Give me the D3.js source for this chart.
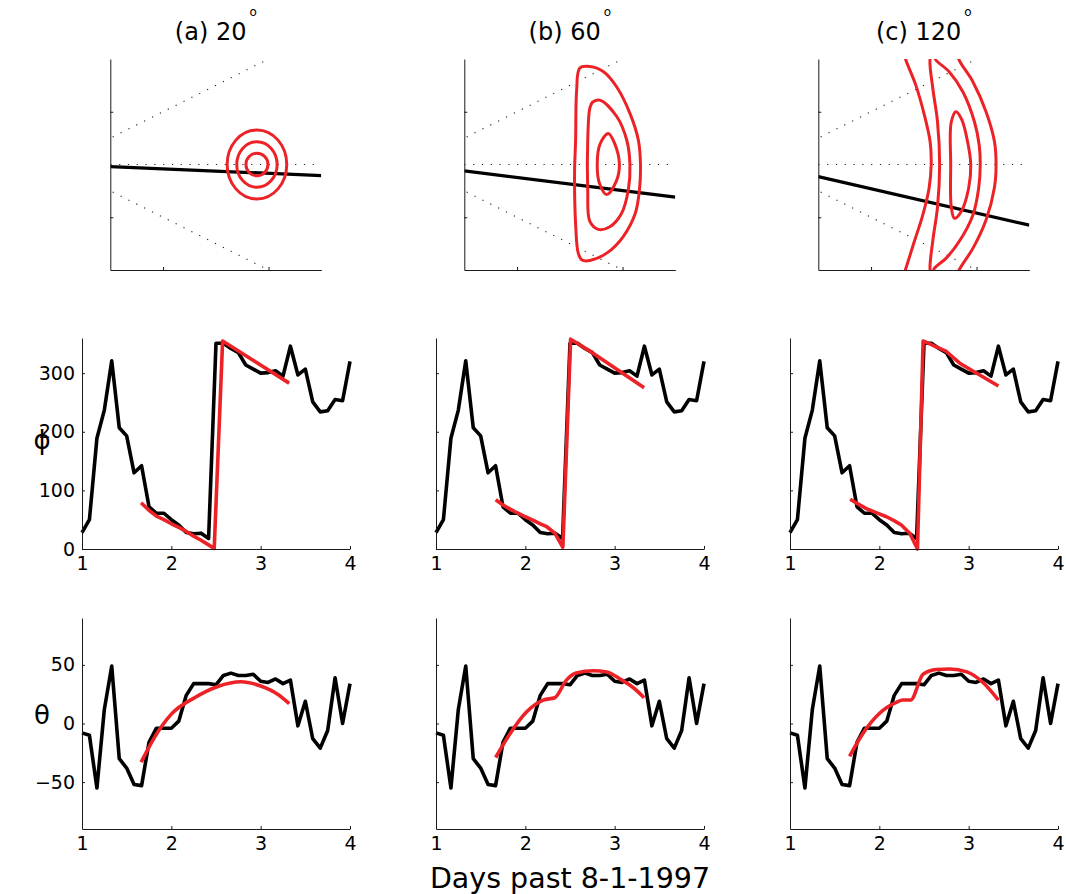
<!DOCTYPE html>
<html><head><meta charset="utf-8">
<script src="https://cdn.jsdelivr.net/npm/d3@7"></script>
<style>
body{margin:0;background:#fff}
svg{display:block}
text{font-family:"DejaVu Sans",Arial,sans-serif;fill:#000}
</style>
</head><body>
<svg id="chart" width="1066" height="894"></svg>
<script>
// ---------- DATA ----------
const panelTitles = ["(a) 20", "(b) 60", "(c) 120"];
const days = [1.000,1.083,1.167,1.250,1.333,1.417,1.500,1.583,1.667,1.750,1.833,1.917,2.000,2.083,2.167,2.250,2.333,2.417,2.500,2.583,2.667,2.750,2.833,2.917,3.000,3.083,3.167,3.250,3.333,3.417,3.500,3.583,3.667,3.750,3.833,3.917,4.000];
const phiObs   = [28,50,189,237,321,207,193,130,142,72,61,61,50,41,28,26,27,18,351,351,342,335,314,307,300,301,304,295,346,297,307,251,234,236,255,253,320];
const thetaObs = [-8,-10,-55,12,49,-30,-38,-52,-53,-16,-4,-4,-4,2,24,34,34,34,33,41,43,41,41,42,36,35,38,34,37,-2,19,-13,-21,-6,39,0,34];

const phiFitA = [[1.662,79],[1.75,66],[1.833,56],[1.917,50],[2.0,43],[2.083,37],[2.167,30],[2.25,22],[2.333,15],[2.417,7],[2.48,1],[2.574,355],[3.319,283]];
const phiFitB = [[1.668,84],[1.75,75],[1.83,68],[1.917,61],[2.0,55],[2.09,49],[2.167,43],[2.24,38],[2.33,27],[2.42,3],[2.507,358],[2.75,335],[3.33,275]];
const phiFitC = [[1.674,85],[1.76,77],[1.854,69],[1.95,63],[2.08,55],[2.17,48],[2.247,41],[2.34,27],[2.427,0],[2.49,355],[2.75,337],[2.90,317],[3.333,278]];

const thetaFitA = [[1.662,-33],[1.81,-12],[2.0,8],[2.26,22],[2.52,31.6],[2.78,35.6],[3.0,32],[3.19,25],[3.32,17]];
const thetaFitB = [[1.668,-29],[1.83,-8.5],[2.015,10],[2.2,20],[2.33,22],[2.46,37],[2.57,43],[2.76,45],[2.91,44],[3.06,38],[3.21,30.5],[3.33,22]];
const thetaFitC = [[1.667,-28],[1.816,-8.5],[2.0,8.5],[2.19,18],[2.265,20],[2.35,20],[2.49,42],[2.64,46],[2.79,46.5],[2.98,44],[3.16,35],[3.333,20]];

const phiTicks = [0,100,200,300];
const thetaTicks = [-50,0,50];
const dayTicks = [1,2,3,4];

// top-row diagrams (data units: x 0..4, y -2..2)
const guideLines = [[[-1,0],[3,2]], [[-1,0],[3,-2]], [[0,0],[4,0]]];
const blackA = [[0,-0.04],[4,-0.21]];
const blackB = [[0,-0.12],[4,-0.62]];
const blackC = [[0,-0.23],[4,-1.15]];
const ellipsesA = [
  {cx:2.78, cy:0, rx:0.565, ry:0.654},
  {cx:2.78, cy:0, rx:0.383, ry:0.432},
  {cx:2.78, cy:0, rx:0.209, ry:0.214}
];
const outerB  = [[2.19,1.83],[2.38,1.86],[2.64,1.76],[2.89,1.47],[3.14,0.97],[3.30,0.46],[3.34,0],[3.32,-0.48],[3.24,-0.93],[3.01,-1.37],[2.70,-1.68],[2.38,-1.82],[2.23,-1.81],[2.16,-1.68],[2.11,-1.12],[2.09,-0.17],[2.11,0.46],[2.13,1.41]];
const middleB = [[2.57,1.22],[2.89,0.91],[3.08,0.46],[3.14,0],[3.11,-0.48],[2.98,-0.93],[2.76,-1.18],[2.54,-1.23],[2.38,-1.08],[2.34,-0.48],[2.34,0.46],[2.38,1.07],[2.43,1.18]];
const innerB  = [[2.73,0.59],[2.85,0.40],[2.94,0],[2.88,-0.32],[2.70,-0.57],[2.56,-0.35],[2.52,0],[2.57,0.38]];
const arcC1   = [[1.60,2.2],[1.66,1.98],[1.85,1.5],[2.01,0.94],[2.12,0.43],[2.14,0],[2.10,-0.45],[1.98,-0.96],[1.82,-1.46],[1.65,-2.0],[1.58,-2.2]];
const arcC4   = [[2.60,2.2],[2.67,1.98],[2.93,1.57],[3.18,1.0],[3.34,0.43],[3.37,0],[3.34,-0.43],[3.18,-1.05],[2.93,-1.59],[2.67,-2.0],[2.60,-2.2]];
const loopC23 = [[2.12,-2.0],[2.17,-1.45],[2.26,-0.81],[2.30,0],[2.26,0.81],[2.17,1.45],[2.12,2.0],[2.17,2.1],[2.23,1.98],[2.48,1.76],[2.74,1.38],[2.96,0.81],[3.05,0.37],[3.07,0],[3.04,-0.45],[2.93,-0.96],[2.67,-1.46],[2.42,-1.78],[2.20,-1.97],[2.16,-2.09]];
const innerC  = [[2.61,1.0],[2.72,0.85],[2.83,0.43],[2.89,0],[2.85,-0.45],[2.71,-0.89],[2.58,-1.02],[2.52,-0.8],[2.51,0],[2.52,0.8]];

const phiFits = [phiFitA, phiFitB, phiFitC];
const thetaFits = [thetaFitA, thetaFitB, thetaFitC];
const blackLines = [blackA, blackB, blackC];
const closedContours = [[], [outerB, middleB, innerB], [loopC23, innerC]];
const openContours = [[], [], [arcC1, arcC4]];

// ---------- LAYOUT ----------
const RED = "#ec2227";
const AX = "#1a1a1a";
const colX = [82, 436, 790];
const W = 268;
const topOff = 28.3, topW = 211;
const topY0 = 59, topH = 211;
const midY0 = 338, midH = 211;
const botY0 = 618, botH = 211;

const svg = d3.select("#chart");

function styleAxis(g){
  g.selectAll("path.domain").attr("stroke", AX).attr("stroke-width", 1);
  g.selectAll(".tick line").attr("stroke", AX).attr("stroke-width", 1);
  g.selectAll(".tick text").attr("font-family", "DejaVu Sans").attr("font-size", 19).attr("fill", "#000");
}

for (let i = 0; i < 3; i++) {
  // ----- top diagram -----
  const tx0 = colX[i] + topOff;
  const xs = d3.scaleLinear().domain([0,4]).range([tx0, tx0 + topW]);
  const ys = d3.scaleLinear().domain([-2,2]).range([topY0 + topH, topY0]);
  const clipId = "clip" + i;
  svg.append("clipPath").attr("id", clipId).append("rect")
    .attr("x", tx0).attr("y", topY0).attr("width", topW).attr("height", topH);
  const gt = svg.append("g").attr("clip-path", `url(#${clipId})`);
  const lineT = d3.line().x(d => xs(d[0])).y(d => ys(d[1]));
  guideLines.forEach(l => {
    gt.append("path").attr("d", lineT(l)).attr("fill", "none")
      .attr("stroke", "#222").attr("stroke-width", 1.1).attr("stroke-dasharray", "1.2,7.6");
  });
  gt.append("path").attr("d", lineT(blackLines[i])).attr("fill","none")
    .attr("stroke", "#000").attr("stroke-width", 3.2);
  if (i === 0) {
    ellipsesA.forEach(e => {
      gt.append("ellipse")
        .attr("cx", xs(e.cx)).attr("cy", ys(e.cy))
        .attr("rx", xs(e.cx + e.rx) - xs(e.cx)).attr("ry", ys(e.cy) - ys(e.cy + e.ry))
        .attr("fill", "none").attr("stroke", RED).attr("stroke-width", 3);
    });
  }
  const closedGen = d3.line().x(d => xs(d[0])).y(d => ys(d[1])).curve(d3.curveCatmullRomClosed.alpha(0.5));
  const openGen = d3.line().x(d => xs(d[0])).y(d => ys(d[1])).curve(d3.curveCatmullRom.alpha(0.5));
  closedContours[i].forEach(c => gt.append("path").attr("d", closedGen(c)).attr("fill","none").attr("stroke", RED).attr("stroke-width", 3));
  openContours[i].forEach(c => gt.append("path").attr("d", openGen(c)).attr("fill","none").attr("stroke", RED).attr("stroke-width", 3));

  const gtx = svg.append("g").attr("transform", `translate(0,${topY0 + topH})`)
    .call(d3.axisBottom(xs).tickValues([1,3]).tickSizeInner(-3).tickSizeOuter(0).tickFormat(""));
  styleAxis(gtx);
  const gty = svg.append("g").attr("transform", `translate(${tx0},0)`)
    .call(d3.axisLeft(ys).tickValues([-1,1]).tickSizeInner(-3).tickSizeOuter(0).tickFormat(""));
  styleAxis(gty);

  // title
  const title = svg.append("text").attr("x", tx0 + topW/2).attr("y", 40)
    .attr("text-anchor", "middle").attr("font-size", 24);
  title.append("tspan").text(panelTitles[i]);
  title.append("tspan").attr("font-size", 12).attr("dx", 3).attr("dy", -24).text("o");

  // ----- middle: phi -----
  const x = d3.scaleLinear().domain([1,4]).range([colX[i], colX[i] + W]);
  const yp = d3.scaleLinear().domain([0,360]).range([midY0 + midH, midY0]);
  const lineP = d3.line().x((d,k) => x(days[k])).y(d => yp(d));
  svg.append("path").attr("d", lineP(phiObs)).attr("fill","none")
    .attr("stroke","#000").attr("stroke-width",3.6).attr("stroke-linejoin","round");
  const fitLineP = d3.line().x(d => x(d[0])).y(d => yp(d[1]));
  svg.append("path").attr("d", fitLineP(phiFits[i])).attr("fill","none")
    .attr("stroke",RED).attr("stroke-width",3.6).attr("stroke-linejoin","round");

  const gpx = svg.append("g").attr("transform", `translate(0,${midY0 + midH})`)
    .call(d3.axisBottom(x).tickValues(dayTicks).tickSizeInner(-3).tickSizeOuter(0).tickPadding(8).tickFormat(d3.format("d")));
  styleAxis(gpx);
  const gpy = svg.append("g").attr("transform", `translate(${colX[i]},0)`)
    .call(d3.axisLeft(yp).tickValues(phiTicks).tickSizeInner(-3).tickSizeOuter(0).tickPadding(7)
      .tickFormat(i === 0 ? d3.format("d") : ""));
  styleAxis(gpy);

  // ----- bottom: theta -----
  const yt = d3.scaleLinear().domain([-90,90]).range([botY0 + botH, botY0]);
  const lineTh = d3.line().x((d,k) => x(days[k])).y(d => yt(d));
  svg.append("path").attr("d", lineTh(thetaObs)).attr("fill","none")
    .attr("stroke","#000").attr("stroke-width",3.6).attr("stroke-linejoin","round");
  const fitLineTh = d3.line().x(d => x(d[0])).y(d => yt(d[1])).curve(d3.curveMonotoneX);
  svg.append("path").attr("d", fitLineTh(thetaFits[i])).attr("fill","none")
    .attr("stroke",RED).attr("stroke-width",3.6);

  const gbx = svg.append("g").attr("transform", `translate(0,${botY0 + botH})`)
    .call(d3.axisBottom(x).tickValues(dayTicks).tickSizeInner(-3).tickSizeOuter(0).tickPadding(8).tickFormat(d3.format("d")));
  styleAxis(gbx);
  const gby = svg.append("g").attr("transform", `translate(${colX[i]},0)`)
    .call(d3.axisLeft(yt).tickValues(thetaTicks).tickSizeInner(-3).tickSizeOuter(0).tickPadding(7)
      .tickFormat(i === 0 ? (d => d < 0 ? "\u2212" + Math.abs(d) : String(d)) : ""));
  styleAxis(gby);
}

// y labels and x label
svg.append("text").attr("x", 42).attr("y", 449).attr("text-anchor","middle").attr("font-size", 26).text("\u03D5");
svg.append("text").attr("x", 42).attr("y", 724).attr("text-anchor","middle").attr("font-size", 26).text("\u03B8");
svg.append("text").attr("x", 570).attr("y", 888).attr("text-anchor","middle").attr("font-size", 28.5).text("Days past 8-1-1997");
</script>
</body></html>
